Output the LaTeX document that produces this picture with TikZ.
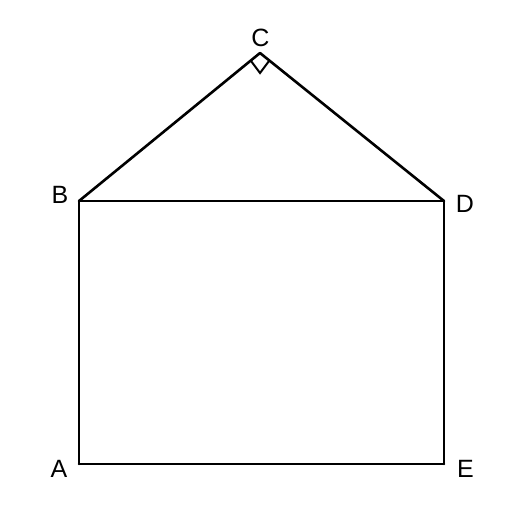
\documentclass[tikz,border=0pt]{standalone}
\usepackage{fontspec}
\setmainfont{Liberation Sans}
\begin{document}
\begin{tikzpicture}[x=1pt,y=-1pt]
	\tikzset{l/.style={inner sep=0pt,font=\fontsize{25}{25}\selectfont},e/.style={line width=2.6pt,line cap=round}}
	\useasboundingbox(0,0)rectangle(526,508);
	\path(79,464)coordinate(A)(79,201)coordinate(B)(260,53)coordinate(C)(444,201)coordinate(D)(444,464)coordinate(E);
	\foreach \x/\y in {
		A/B,B/C,C/D,
		D/E,E/A,B/D}
	\draw[e](\x)--(\y);
	\draw[line width=2pt](C)++(-9,8)--++(9,12)--++(9,-12);
	\path(59,469)node[l](a){A}(60,194.5)node[l](b){B}(260.5,37.5)node[l](c){C}(465,204)node[l](d){D}(465.5,469)node[l](e){E};
\end{tikzpicture}
\end{document}
